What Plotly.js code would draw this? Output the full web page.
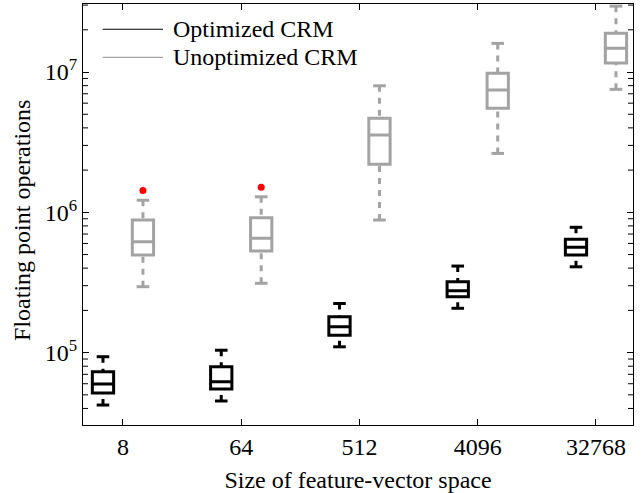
<!DOCTYPE html>
<html>
<head>
<meta charset="utf-8">
<script src="https://cdn.plot.ly/plotly-3.0.1.min.js"></script>
<style>html,body{margin:0;padding:0;background:#fff;}#chart{width:644px;height:493px;}</style>
</head>
<body>
<div id="chart"></div>
<script>
// ---- data ----
var categories = ['8', '64', '512', '4096', '32768'];
var seriesNames = ['Optimized CRM', 'Unoptimized CRM'];
var yTickValues = [1e5, 1e6, 1e7];
var yTickLabels = ['10<sup>5</sup>', '10<sup>6</sup>', '10<sup>7</sup>'];

var optLower  = [42300, 45200, 110000, 207000, 409000];
var optQ1     = [51500, 55000, 133000, 250000, 496000];
var optMedian = [59700, 62000, 153000, 276000, 563000];
var optQ3     = [73000, 79400, 180000, 320000, 642000];
var optUpper  = [93500, 104000, 224000, 414000, 782000];

var unoLower  = [295000, 312000, 881000, 2630000, 7530000];
var unoQ1     = [497000, 530000, 2200000, 5510000, 11600000];
var unoMedian = [618000, 653000, 3560000, 7440000, 14800000];
var unoQ3     = [881000, 916000, 4680000, 9800000, 18900000];
var unoUpper  = [1220000, 1290000, 7980000, 16000000, 29500000];

var outlierCategory = ['8', '64'];
var outlierValue    = [1430000, 1510000];

// ---- styles ----
var BLACK = '#000000', GRAY = '#a3a3a3', RED = '#ff0000';
var FONT = 'Liberation Serif, Times New Roman, serif';
var OFFSET = 0.169, BOXW = 0.18;
var YRANGE = [4.484, 7.485];
var PLOT_W = 550;

function positions(off) { return categories.map(function (c, i) { return i + 1 + off; }); }

function boxTrace(pos, q1, med, q3, color) {
  return {
    type: 'box', x: pos, q1: q1, median: med, q3: q3,
    lowerfence: q1, upperfence: q3, width: BOXW, whiskerwidth: 0,
    boxpoints: false, fillcolor: 'rgba(0,0,0,0)',
    line: { color: color, width: 3 }, showlegend: false, hoverinfo: 'skip'
  };
}
function whiskerTrace(pos, lo, q1, q3, hi, color) {
  var xs = [], ys = [];
  pos.forEach(function (p, i) {
    xs.push(p, p, null, p, p, null);
    ys.push(hi[i], q3[i], null, lo[i], q1[i], null);
  });
  return { type: 'scatter', mode: 'lines', x: xs, y: ys, connectgaps: false,
    line: { color: color, width: 3, dash: '6px,6px' }, showlegend: false, hoverinfo: 'skip' };
}
function capTrace(pos, lo, hi, color) {
  return { type: 'scatter', mode: 'markers', x: pos.concat(pos), y: lo.concat(hi),
    marker: { symbol: 'line-ew', size: 9, color: color, line: { color: color, width: 3 } },
    showlegend: false, hoverinfo: 'skip' };
}

var pOpt = positions(-OFFSET), pUno = positions(OFFSET);
var outX = outlierCategory.map(function (c) { return categories.indexOf(c) + 1 + OFFSET; });

var traces = [
  whiskerTrace(pOpt, optLower, optQ1, optQ3, optUpper, BLACK),
  capTrace(pOpt, optLower, optUpper, BLACK),
  boxTrace(pOpt, optQ1, optMedian, optQ3, BLACK),
  whiskerTrace(pUno, unoLower, unoQ1, unoQ3, unoUpper, GRAY),
  capTrace(pUno, unoLower, unoUpper, GRAY),
  boxTrace(pUno, unoQ1, unoMedian, unoQ3, GRAY),
  { type: 'scatter', mode: 'markers', x: outX, y: outlierValue,
    marker: { color: RED, size: 7, symbol: 'circle' }, showlegend: false, hoverinfo: 'skip' }
];

// minor log ticks 2..9 in each decade, drawn as short line shapes on both y-axis lines
var shapes = [], annotations = [];
var MINOR_LEN = 5 / PLOT_W;
[4, 5, 6, 7].forEach(function (d) {
  for (var k = 2; k <= 9; k++) {
    var lv = Math.log10(k * Math.pow(10, d));
    if (lv < YRANGE[0] || lv > YRANGE[1]) continue;
    // y in axis fraction computed from the log range
    var f = (lv - YRANGE[0]) / (YRANGE[1] - YRANGE[0]);
    shapes.push({ type: 'line', xref: 'paper', yref: 'paper', x0: 0, x1: MINOR_LEN, y0: f, y1: f,
      line: { color: '#000', width: 1 } });
    shapes.push({ type: 'line', xref: 'paper', yref: 'paper', x0: 1 - MINOR_LEN, x1: 1, y0: f, y1: f,
      line: { color: '#000', width: 1 } });
  }
});

var legendY = [0.940, 0.8734];
var legendColors = [BLACK, GRAY];
seriesNames.forEach(function (n, i) {
  shapes.push({ type: 'line', xref: 'paper', yref: 'paper', x0: 0.0358, x1: 0.1455,
    y0: legendY[i], y1: legendY[i], line: { color: legendColors[i], width: 1.2 } });
  annotations.push({ xref: 'paper', yref: 'paper', x: 0.160, y: legendY[i], xanchor: 'left',
    yanchor: 'middle', text: n, showarrow: false, font: { family: FONT, size: 24, color: '#000' } });
});
annotations.push({ xref: 'paper', yref: 'paper', x: -0.111, y: 0.487, xanchor: 'center',
  yanchor: 'middle', textangle: -90, text: 'Floating point operations', showarrow: false,
  font: { family: FONT, size: 24, color: '#000' } });

var layout = {
  width: 644, height: 493,
  margin: { l: 83, r: 11, t: 4, b: 68, pad: 0 },
  paper_bgcolor: '#fff', plot_bgcolor: '#fff',
  font: { family: FONT, size: 24, color: '#000' },
  showlegend: false,
  xaxis: {
    range: [0.662, 5.313], tickvals: categories.map(function (c, i) { return i + 1; }),
    ticktext: categories, ticks: 'inside', ticklen: 6, tickcolor: '#000',
    showline: true, linecolor: '#000', linewidth: 1, mirror: 'ticks',
    showgrid: false, zeroline: false, automargin: false,
    tickfont: { family: FONT, size: 24, color: '#000' },
    title: { text: 'Size of feature-vector space', font: { family: FONT, size: 24, color: '#000' } }
  },
  yaxis: {
    type: 'log', range: YRANGE, tickmode: 'array', tickvals: yTickValues, ticktext: yTickLabels,
    ticks: 'inside', ticklen: 6, tickcolor: '#000',
    showline: true, linecolor: '#000', linewidth: 1, mirror: 'ticks',
    showgrid: false, zeroline: false, automargin: false,
    tickfont: { family: FONT, size: 24, color: '#000' }
  },
  shapes: shapes,
  annotations: annotations
};

Plotly.newPlot('chart', traces, layout, { displayModeBar: false, staticPlot: true });
</script>
</body>
</html>
